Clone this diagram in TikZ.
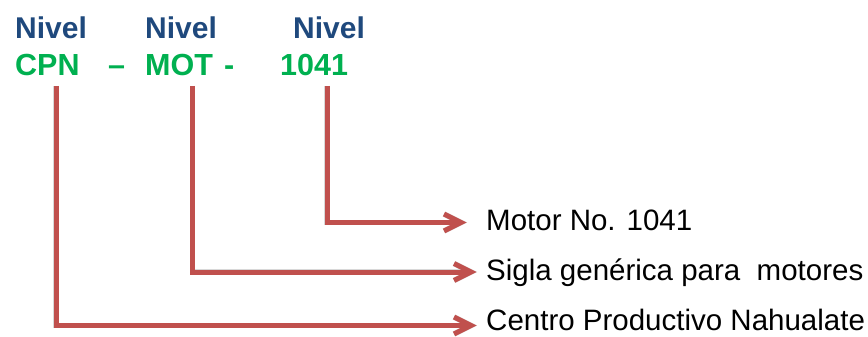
\documentclass[tikz,border=0pt]{standalone}
\usepackage{fontspec}
\setmainfont{Liberation Sans}
\usetikzlibrary{calc}
\definecolor{nivelblue}{HTML}{1F497D}
\definecolor{codegreen}{HTML}{00B050}
\definecolor{linkred}{HTML}{C0504D}
\begin{document}
\begin{tikzpicture}[x=1pt,y=-1pt,
  head/.style={font=\fontsize{30}{30}\selectfont\bfseries, text=nivelblue, anchor=base west, inner sep=0pt},
  code/.style={font=\fontsize{30.5}{30}\selectfont\bfseries, text=codegreen, anchor=base west, inner sep=0pt},
  lbl/.style={font=\fontsize{29.5}{30}\selectfont, text=black, anchor=base west, inner sep=0pt},
  link/.style={draw=linkred, line width=5pt, line join=miter},
  linkshadow/.style={draw=black!22, line width=5.5pt, opacity=.7, line join=miter, xshift=1.5pt, yshift=-2.5pt}
]
\useasboundingbox (0,0) rectangle (868,337);
% headings
\node[head] (n1) at (15,38.5) {Nivel};
\node[head] (n2) at (145,38.5) {Nivel};
\node[head] (n3) at (293,38.5) {Nivel};
% codes
\node[code] (c1) at (15,76) {CPN};
\node[code] (d1) at (108,76) {–};
\node[code] (c2) at (145,76) {MOT};
\node[code] (d2) at (224,76) {-};
\node[code] (c3) at (280,76) {1041};
% labels
\node[lbl] (l1) at (486,230) {Motor No. 1041};
\node[lbl] (l2) at (486,280) {Sigla genérica para\ \ motores};
\node[lbl] (l3) at (486,330) {Centro Productivo Nahualate};
% start points of the connectors
\coordinate (s1) at (56,86);
\coordinate (s2) at (192.5,86);
\coordinate (s3) at (327,86);
% arrow tips, next to the labels
\coordinate (e1) at ([xshift=-25pt,yshift=7.5pt]l1.base west);
\coordinate (e2) at ([xshift=-15pt,yshift=8pt]l2.base west);
\coordinate (e3) at ([xshift=-15pt,yshift=4.5pt]l3.base west);
% shadows
\foreach \s/\e in {s3/e1, s2/e2, s1/e3}{
  \draw[linkshadow] (\s) |- (\e);
  \draw[linkshadow] ($(\e)+(-17,-8.5)$) -- (\e) -- ($(\e)+(-17,8.5)$);
}
% connectors
\foreach \s/\e in {s3/e1, s2/e2, s1/e3}{
  \draw[link] (\s) |- (\e);
  \draw[link] ($(\e)+(-17,-8.5)$) -- (\e) -- ($(\e)+(-17,8.5)$);
}
\end{tikzpicture}
\end{document}
